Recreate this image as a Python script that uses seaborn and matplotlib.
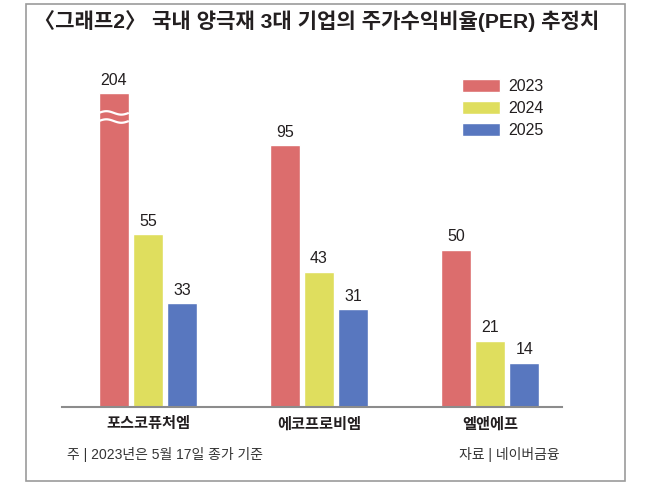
import matplotlib
matplotlib.use("Agg")
import matplotlib.pyplot as plt
import seaborn as sns
import numpy as np
import pandas as pd
from matplotlib.patches import Rectangle

# ---------------- data ----------------
companies = ["포스코퓨처엠", "에코프로비엠", "엘앤에프"]
years = ["2023", "2024", "2025"]
per_2023 = [204, 95, 50]
per_2024 = [55, 43, 21]
per_2025 = [33, 31, 14]
# heights as drawn in the source (the tall 2023 bars are shortened there)
drawn_2023 = [100, 83.5, 50]
drawn_2024 = per_2024
drawn_2025 = per_2025

title = "〈그래프2〉 국내 양극재 3대 기업의 주가수익비율(PER) 추정치"
note_left = "주 | 2023년은 5월 17일 종가 기준"
note_right = "자료 | 네이버금융"

palette = {"2023": "#DC6D6D", "2024": "#DFDE5E", "2025": "#5877BF"}

values = {"2023": per_2023, "2024": per_2024, "2025": per_2025}
drawn = {"2023": drawn_2023, "2024": drawn_2024, "2025": drawn_2025}
df = pd.DataFrame(
    [{"company": c, "year": y, "drawn": drawn[y][i], "value": values[y][i]}
     for y in years for i, c in enumerate(companies)]
)

# ---------------- style ----------------
sns.set_theme(style="white")
plt.rcParams['font.family'] = ['Liberation Sans', 'Noto Sans CJK KR', 'DejaVu Sans']
TXT = "#231f20"

W, H = 650, 492
fig = plt.figure(figsize=(W / 100, H / 100), dpi=100)
fig.patch.set_facecolor("white")
ax = fig.add_axes([62 / W, (H - 406.5) / H, 500 / W, 346.5 / H])

sns.barplot(data=df, x="company", y="drawn", hue="year", order=companies,
            hue_order=years, palette=palette, saturation=1, width=0.6,
            gap=0.123, errorbar=None, ax=ax)

ax.set_xlim(-0.503, 2.421)
ax.set_ylim(0, 110.7)

# value labels
for container, yr in zip(ax.containers, years):
    labs = []
    for p in container.patches:
        idx = int(round(p.get_x() + p.get_width() / 2))
        labs.append(str(values[yr][idx]))
    ax.bar_label(container, labels=labs, padding=4, fontsize=11.5, color=TXT)

# break mark on the shortened 2023 bar
for p in ax.containers[0].patches:
    idx = int(round(p.get_x() + p.get_width() / 2))
    if idx == 0:
        left, w = p.get_x(), p.get_width()
        xs = np.linspace(left, left + w, 80)
        for yc in (93.8, 91.2):
            ax.plot(xs, yc + 0.55 * np.sin(2 * np.pi * (xs - left) / w),
                    color="white", lw=1.6, solid_capstyle="butt")

# axes cosmetics
for s in ("top", "right", "left"):
    ax.spines[s].set_visible(False)
ax.spines["bottom"].set_color("#8c8c8c")
ax.spines["bottom"].set_linewidth(1.5)
ax.set_yticks([])
ax.set_xlabel("")
ax.set_ylabel("")
ax.tick_params(axis="x", length=0, pad=7.5)
for lab in ax.get_xticklabels():
    lab.set_fontweight("bold")
    lab.set_fontsize(11)
    lab.set_color(TXT)
ax.set_facecolor("white")

# legend
leg = ax.get_legend()
handles = leg.legend_handles
labels = [t.get_text() for t in leg.get_texts()]
leg.remove()
ax.legend(handles, labels, loc="upper left",
          bbox_to_anchor=(462 / W, (H - 79) / H), bbox_transform=fig.transFigure,
          frameon=False, fontsize=11.5, handlelength=2.4, handleheight=0.92,
          handletextpad=0.5, labelspacing=0.42, borderpad=0, borderaxespad=0,
          labelcolor=TXT)

# title
t = fig.text(34 / W, (H - 21) / H, title, fontsize=14.5, fontweight="heavy",
             ha="left", va="center", color=TXT)
fig.canvas.draw()
bb = t.get_window_extent()
t.set_fontsize(14.5 * 566 / bb.width)

# notes
fig.text(66.7 / W, (H - 455) / H, note_left, fontsize=10, ha="left",
         va="center", color="#333333")
fig.text(560 / W, (H - 455) / H, note_right, fontsize=10, ha="right",
         va="center", color="#333333")

# frame
fig.add_artist(Rectangle((26 / W, 11 / H), 599 / W, 477 / H,
                         transform=fig.transFigure, fill=False,
                         ec="#9b9b9b", lw=1.2))

fig.savefig("out.png", dpi=100)
